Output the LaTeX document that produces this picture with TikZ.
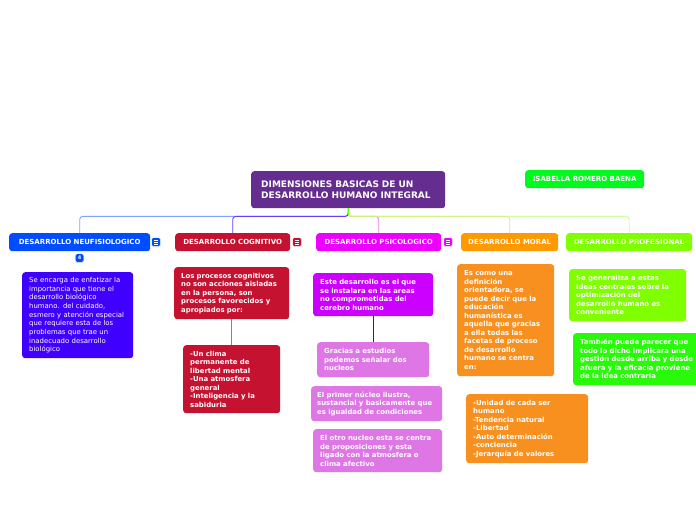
\documentclass[tikz,border=0pt]{standalone}
\usepackage{fontspec}
\setmainfont{DejaVu Sans}
\definecolor{cRoot}{RGB}{101,45,144}
\definecolor{cIsa}{RGB}{0,250,30}
\definecolor{cNeu}{RGB}{0,76,255}
\definecolor{cNeuD}{RGB}{64,0,255}
\definecolor{cCog}{RGB}{196,18,48}
\definecolor{cPsi}{RGB}{236,0,255}
\definecolor{cPsiA}{RGB}{204,0,255}
\definecolor{cPsiB}{RGB}{222,118,230}
\definecolor{cMor}{RGB}{255,153,0}
\definecolor{cMorB}{RGB}{247,144,30}
\definecolor{cPro}{RGB}{128,255,0}
\definecolor{cProB}{RGB}{40,250,10}
\definecolor{lNeu}{RGB}{127,163,255}
\definecolor{lCog}{RGB}{106,60,255}
\definecolor{lPsi}{RGB}{230,128,240}
\definecolor{lMor}{RGB}{255,200,122}
\definecolor{lPro}{RGB}{198,255,128}
\definecolor{lCogIn}{RGB}{90,130,250}
\definecolor{lPsiIn}{RGB}{20,40,150}
\tikzset{
  box/.style={rounded corners=3pt, inner xsep=7pt, inner ysep=2pt, anchor=north west,
    text=white, font=\fontsize{6.9}{8.5}\selectfont\bfseries, align=left},
  regbox/.style={box, font=\fontsize{6.9}{8.7}\selectfont},
  lvl/.style={rounded corners=3pt, inner sep=0pt, anchor=north west, text=white,
    font=\fontsize{7}{8}\selectfont\bfseries, align=center, minimum height=18pt},
  icon/.style={rounded corners=1pt, draw=white, line width=0.4pt, minimum size=8.5pt, inner sep=0pt},
  conn/.style={line width=0.9pt, rounded corners=3pt},
}
\newcommand{\menuicon}[3]{%
  \node[icon, fill=#2] (#3) at (#1) {};
  \foreach \dy in {-2,0,2} \draw[white, line width=0.6pt] ([xshift=-2.2pt,yshift=\dy pt]#3.center) -- ++(4.4pt,0pt);
}
\begin{document}
\begin{tikzpicture}[x=1pt,y=-1pt]
\useasboundingbox (0,0) rectangle (696,520);

% root and author
\node[box, fill=cRoot, minimum width=194pt, minimum height=37pt, text width=174pt,
  inner xsep=10pt, font=\fontsize{9}{11.5}\selectfont\bfseries] (root) at (251,171)
  {DIMENSIONES BASICAS DE UN\\DESARROLLO HUMANO INTEGRAL};
\node[lvl, fill=cIsa, minimum width=119pt] (isa) at (525,170) {ISABELLA ROMERO BAENA};

% level 1
\node[lvl, fill=cNeu, minimum width=141pt] (neu) at (9,233) {DESARROLLO NEUFISIOLOGICO};
\node[lvl, fill=cCog, minimum width=115pt] (cog) at (175,233) {DESARROLLO COGNITIVO};
\node[lvl, fill=cPsi, minimum width=125pt] (psi) at (316,233) {DESARROLLO PSICOLOGICO};
\node[lvl, fill=cMor, minimum width=97pt] (mor) at (461,233) {DESARROLLO MORAL};
\node[lvl, fill=cPro, minimum width=126pt] (pro) at (566,233) {DESARROLLO PROFESIONAL};

% connectors from root
\draw[conn, lNeu] (root.south) -- ++(0,8) -| (neu.north);
\draw[conn, lCog] (root.south) -- ++(0,8) -| (cog.north);
\draw[conn, lPsi] (root.south) -- ++(0,8) -| (psi.north);
\draw[conn, lMor, opacity=0.85] (root.south) -- ++(0,8) -| (mor.north);
\draw[conn, lPro, opacity=0.8] (root.south) -- ++(0,8) -| (pro.north);
\draw[line width=0.9pt, cPro!80!green] (root.south) -- ++(0,7);

% icons
\menuicon{156,242}{cNeu}{ineu}
\menuicon{297,242}{cCog}{icog}
\menuicon{448,242}{cPsi}{ipsi}
\node[rounded corners=1.5pt, fill=cNeu, draw=white, line width=0.4pt, minimum size=8.5pt, inner sep=0pt,
  text=white, font=\fontsize{5}{5}\selectfont\bfseries] (badge) at (79.5,258) {4};

% neurofisiologico
\node[regbox, fill=cNeuD, minimum width=111pt, minimum height=86pt, text width=97pt] (neud) at (22,272)
 {Se encarga de enfatizar la\\importancia que tiene el\\desarrollo biológico\\humano. del cuidado,\\esmero y atención especial\\que requiere esta de los\\problemas que trae un\\inadecuado desarrollo\\biológico};

% cognitivo
\node[box, fill=cCog, minimum width=115pt, minimum height=52pt, text width=101pt] (cog1) at (174,267)
 {Los procesos cognitivos\\no son acciones aisladas\\en la persona, son\\procesos favorecidos y\\apropiados por:};
\node[box, fill=cCog, minimum width=97pt, minimum height=68pt, text width=83pt] (cog2) at (183,345)
 {-Un clima\\permanente de\\libertad mental\\-Una atmosfera\\general\\-Inteligencia y la\\sabiduria};
\draw[line width=0.9pt, lCogIn] (cog1.south) -- (cog2.north);

% psicologico
\node[box, fill=cPsiA, minimum width=120pt, minimum height=43pt, text width=106pt] (psi1) at (313,273)
 {Este desarrollo es el que\\se instalara en las areas\\no comprometidas del\\cerebro humano};
\node[box, fill=cPsiB, minimum width=112pt, minimum height=35pt, text width=98pt] (psi2) at (317,342)
 {Gracias a estudios\\podemos señalar dos\\nucleos};
\node[box, fill=cPsiB, minimum width=131pt, minimum height=35pt, text width=119pt, inner xsep=6pt] (psi3) at (311,386)
 {El primer núcleo ilustra,\\sustancial y basicamente que\\es igualdad de condiciones};
\node[box, fill=cPsiB, minimum width=129pt, minimum height=43pt, text width=115pt] (psi4) at (313,429)
 {El otro nucleo esta se centra\\de proposiciones y esta\\ligado con la atmosfera o\\clima afectivo};
\draw[line width=0.9pt, lPsiIn] (psi1.south) -- (psi2.north);

% moral
\node[box, fill=cMorB, minimum width=97pt, minimum height=112pt, text width=83pt] (mor1) at (457,264)
 {Es como una\\definición\\orientadora, se\\puede decir que la\\educación\\humanística es\\aquella que gracias\\a ella todas las\\facetas de proceso\\de desarrollo\\humano se centra\\en:};
\node[box, fill=cMorB, minimum width=122pt, minimum height=69pt, text width=108pt] (mor2) at (466,394)
 {-Unidad de cada ser\\humano\\-Tendencia natural\\-Libertad\\-Auto determinación\\-conciencia\\-Jerarquía de valores};

% profesional
\node[box, fill=cPro, minimum width=117pt, minimum height=52pt, text width=103pt] (pro1) at (569,269)
 {Se generaliza a estas\\ideas centrales sobre la\\optimización del\\desarrollo humano es\\conveniente};
\node[box, fill=cProB, minimum width=132pt, minimum height=52pt, text width=118pt] (pro2) at (573,333)
 {También puede parecer que\\todo lo dicho implicara una\\gestión desde arriba y desde\\afuera y la eficacia proviene\\de la idea contraria};
\end{tikzpicture}
\end{document}
